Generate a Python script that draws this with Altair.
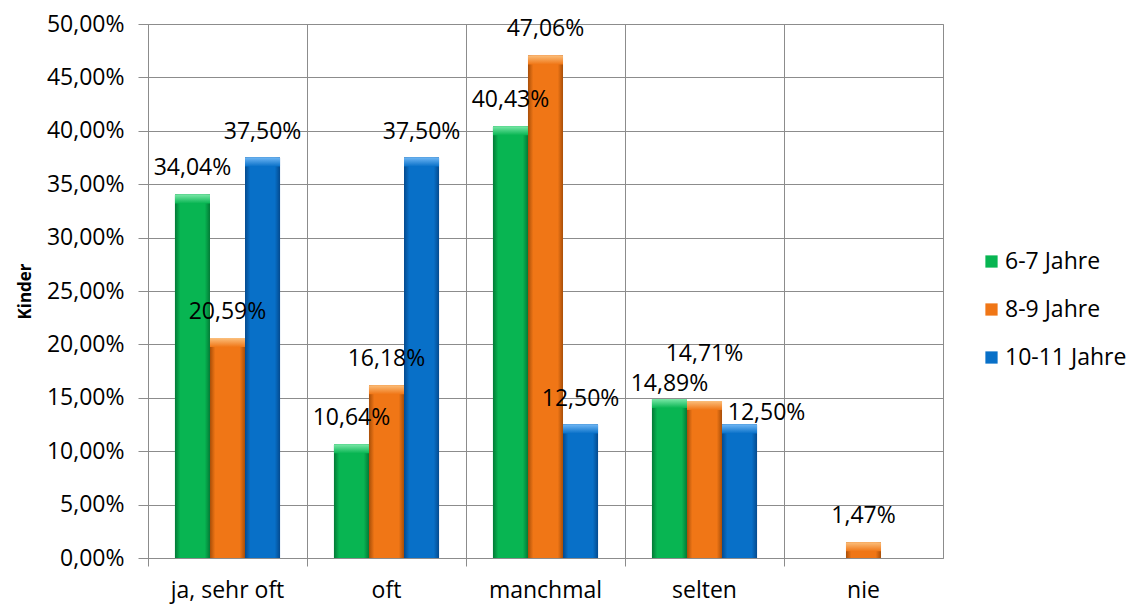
import altair as alt
import pandas as pd

categories = ["ja, sehr oft", "oft", "manchmal", "selten", "nie"]
series = ["6-7 Jahre", "8-9 Jahre", "10-11 Jahre"]
v_6_7 = [34.04, 10.64, 40.43, 14.89, None]
v_8_9 = [20.59, 16.18, 47.06, 14.71, 1.47]
v_10_11 = [37.50, 37.50, 12.50, 12.50, None]

colors = ["#08b552", "#f07616", "#0870c8"]
dark = ["#037a36", "#a84e08", "#044a8e"]
light = ["#7be8a8", "#fbbf7c", "#6fb6f4"]

rows = []
for s, vals in zip(series, [v_6_7, v_8_9, v_10_11]):
    for c, v in zip(categories, vals):
        if v is not None:
            rows.append({"cat": c, "series": s, "value": v,
                         "label": f"{v:.2f}".replace(".", ",") + "%"})
df = pd.DataFrame(rows)

# label nudges (pixels) for manually placed labels
nudges = {("selten", "6-7 Jahre"): (0, -15),
          ("selten", "8-9 Jahre"): (0, -47),
          ("selten", "10-11 Jahre"): (27, -12)}

FONT = "Open Sans"
FS = 23

x_enc = alt.X("cat:N", sort=categories,
              scale=alt.Scale(paddingInner=0, paddingOuter=0),
              axis=alt.Axis(title=None, bandPosition=0,
                            labelAngle=0, grid=True, gridColor="#8c8c8c",
                            tickSize=8, tickColor="#8c8c8c", domainColor="#8c8c8c",
                            labelFont=FONT, labelFontSize=FS, labelColor="#000",
                            labelPadding=13))
xo_enc = alt.XOffset("series:N", sort=series,
                     scale=alt.Scale(domain=series, paddingInner=0, paddingOuter=0.77))
y_enc = alt.Y("value:Q", scale=alt.Scale(domain=[0, 50]),
              axis=alt.Axis(title="Kinder", values=list(range(0, 55, 5)),
                            labelExpr="replace(format(datum.value, '.2f'), '.', ',') + '%'",
                            grid=True, gridColor="#8c8c8c", tickSize=10,
                            tickColor="#8c8c8c", domainColor="#8c8c8c",
                            labelFont=FONT, labelFontSize=FS, labelColor="#000",
                            labelPadding=14, titleFont=FONT, titleFontSize=17,
                            titleFontWeight="bold", titleColor="#000", titlePadding=12))

base = alt.Chart(df).encode(x=x_enc, xOffset=xo_enc, y=y_enc)

layers = [base.mark_bar().encode(
    color=alt.Color("series:N", sort=series,
                    scale=alt.Scale(domain=series, range=colors),
                    legend=alt.Legend(title=None, orient="none", legendX=832, legendY=226,
                                      symbolType="square", symbolSize=150,
                                      symbolStrokeWidth=0, labelFont=FONT,
                                      labelFontSize=FS, labelColor="#000",
                                      rowPadding=24, labelOffset=2)))]

for s, c, d, l in zip(series, colors, dark, light):
    grad = alt.Gradient(gradient="linear", x1=0, x2=1, y1=0, y2=0,
                        stops=[alt.GradientStop(color=d, offset=0),
                               alt.GradientStop(color=c, offset=0.15),
                               alt.GradientStop(color=c, offset=0.85),
                               alt.GradientStop(color=d, offset=1)])
    cap = alt.Gradient(gradient="linear", x1=0, x2=0, y1=0, y2=1,
                       stops=[alt.GradientStop(color=l, offset=0),
                              alt.GradientStop(color=c, offset=1)])
    sub = base.transform_filter(alt.datum.series == s)
    layers.append(sub.mark_bar(fill=grad))
    layers.append(sub.mark_bar(fill=cap, y2Offset=9).encode(y2=alt.Y2("value:Q")))

nudge_filter = " || ".join(
    f"(datum.cat == '{c}' && datum.series == '{s}')" for (c, s) in nudges)
layers.append(base.transform_filter(f"!({nudge_filter})").mark_text(
    font=FONT, fontSize=FS, color="#000", dy=-26, baseline="middle").encode(text="label:N"))
for (c, s), (dx, dy) in nudges.items():
    layers.append(base.transform_filter(
        (alt.datum.cat == c) & (alt.datum.series == s)).mark_text(
        font=FONT, fontSize=FS, color="#000", dx=dx, dy=dy, baseline="middle"
    ).encode(text="label:N"))

chart = alt.layer(*layers).properties(
    width=795, height=534,
    padding={"left": 140, "top": 16, "right": 191, "bottom": 52},
    autosize=alt.AutoSizeParams(type="none"),
    background="white",
).configure_view(stroke="#8c8c8c")

chart.save("out.html", embed_options={"renderer": "svg", "actions": False})
